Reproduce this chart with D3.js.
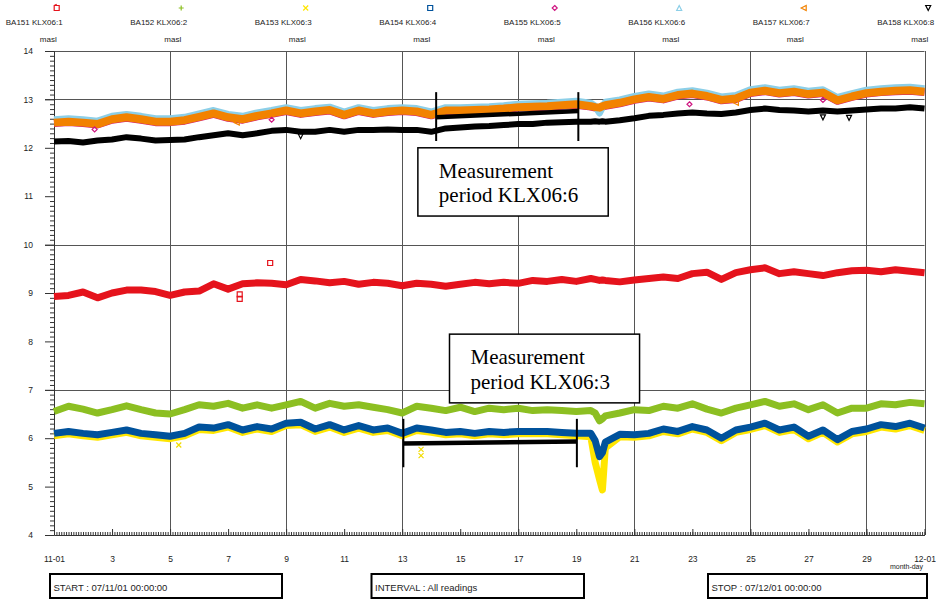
<!DOCTYPE html>
<html><head><meta charset="utf-8">
<script src="https://cdn.jsdelivr.net/npm/d3@7"></script>
<style>body{margin:0;background:#fff}svg{display:block}</style>
</head><body><svg id="c" width="936" height="599"></svg>
<script>
// ---------- DATA ----------
const days=[0,0.5,1,1.5,2,2.5,3,3.5,4,4.5,5,5.5,6,6.5,7,7.5,8,8.5,9,9.5,10,10.5,11,11.5,12,12.5,13,13.5,14,14.5,15,15.5,16,16.5,17,17.5,18,18.5,18.65,18.8,18.9,19,19.5,20,20.5,21,21.5,22,22.5,23,23.5,24,24.5,25,25.5,26,26.5,27,27.5,28,28.5,29,29.5,30];

const seriesNames=["BA151 KLX06:1","BA152 KLX06:2","BA153 KLX06:3","BA154 KLX06:4","BA155 KLX06:5","BA156 KLX06:6","BA157 KLX06:7","BA158 KLX06:8"];
const unitLabels=["masl","masl","masl","masl","masl","masl","masl","masl"];

const ba151=[8.93,8.95,9.02,8.90,9.00,9.06,9.06,9.03,8.95,9.02,
 9.04,9.19,9.08,9.19,9.21,9.20,9.17,9.28,9.25,9.21,
 9.24,9.18,9.22,9.20,9.15,9.20,9.18,9.14,9.18,9.22,
 9.19,9.22,9.20,9.26,9.24,9.28,9.24,9.30,
 9.28,9.26,9.27,
 9.26,9.23,9.27,9.30,9.33,9.30,9.40,9.43,9.28,9.42,9.48,9.52,9.40,9.44,9.40,9.36,9.42,9.46,9.47,9.44,9.48,9.45,9.42];
const ba152=[6.55,6.66,6.60,6.52,6.59,6.67,6.59,6.52,6.50,6.59,
 6.69,6.66,6.72,6.62,6.69,6.62,6.69,6.76,6.62,6.72,
 6.66,6.69,6.64,6.59,6.52,6.66,6.62,6.57,6.64,6.55,
 6.62,6.59,6.62,6.57,6.59,6.57,6.55,6.57,
 6.52,6.36,6.40,
 6.46,6.52,6.59,6.57,6.66,6.62,6.71,6.60,6.52,6.62,6.69,6.76,6.66,6.71,6.59,6.69,6.52,6.62,6.62,6.71,6.69,6.74,6.71];
const ba153=[6.05,6.09,6.05,6.02,6.07,6.12,6.05,6.02,5.99,6.05,
 6.18,6.16,6.23,6.12,6.19,6.14,6.26,6.28,6.14,6.23,
 6.12,6.21,6.12,6.16,6.05,6.16,6.12,6.07,6.09,6.05,
 6.09,6.07,6.09,6.09,6.09,6.07,6.05,6.03,
 5.50,5.15,4.93,
 5.80,6.03,6.02,6.05,6.14,6.09,6.19,6.12,5.95,6.12,6.18,6.26,6.12,6.18,5.99,6.12,5.92,6.09,6.14,6.23,6.19,6.26,6.16];
const ba154=[6.10,6.14,6.10,6.07,6.12,6.17,6.10,6.07,6.04,6.10,
 6.23,6.21,6.28,6.17,6.24,6.19,6.31,6.33,6.19,6.28,
 6.17,6.26,6.17,6.21,6.10,6.21,6.17,6.12,6.14,6.10,
 6.14,6.12,6.14,6.14,6.14,6.12,6.10,6.10,
 5.95,5.62,5.70,
 5.92,6.08,6.07,6.10,6.19,6.14,6.24,6.17,6.00,6.17,6.23,6.31,6.17,6.23,6.04,6.17,5.97,6.14,6.19,6.28,6.24,6.31,6.21];
const ba155=[12.50,12.52,12.50,12.47,12.57,12.61,12.57,12.52,12.52,12.55,
 12.62,12.69,12.61,12.57,12.64,12.69,12.75,12.69,12.73,12.76,
 12.66,12.75,12.69,12.73,12.75,12.73,12.66,12.75,12.75,12.76,
 12.77,12.79,12.82,12.83,12.84,12.86,12.88,12.84,
 12.82,12.81,12.84,
 12.86,12.91,12.98,13.03,12.99,13.07,13.10,13.05,12.97,13.00,13.12,13.16,13.11,13.14,13.09,13.12,12.96,13.04,13.11,13.14,13.16,13.17,13.14];
const ba156=[12.58,12.60,12.58,12.55,12.65,12.69,12.65,12.60,12.60,12.63,
 12.70,12.77,12.69,12.65,12.72,12.77,12.83,12.77,12.81,12.84,
 12.74,12.83,12.77,12.81,12.83,12.81,12.74,12.83,12.83,12.84,
 12.85,12.87,12.90,12.91,12.92,12.94,12.96,12.92,
 12.86,12.72,12.84,
 12.94,12.99,13.06,13.11,13.07,13.15,13.18,13.13,13.05,13.08,13.20,13.24,13.19,13.22,13.17,13.20,13.04,13.12,13.19,13.22,13.24,13.25,13.22];
const ba157=[12.52,12.54,12.52,12.49,12.59,12.63,12.59,12.54,12.54,12.57,
 12.64,12.71,12.63,12.59,12.66,12.71,12.77,12.71,12.75,12.78,
 12.68,12.77,12.71,12.75,12.77,12.75,12.68,12.77,12.77,12.78,
 12.79,12.81,12.84,12.85,12.86,12.88,12.90,12.86,
 12.84,12.83,12.86,
 12.88,12.93,13.00,13.05,13.01,13.09,13.12,13.07,12.99,13.02,13.14,13.18,13.13,13.16,13.11,13.14,12.98,13.06,13.13,13.16,13.18,13.19,13.16];
const ba158=[12.13,12.14,12.11,12.15,12.17,12.22,12.19,12.15,12.16,12.17,
 12.22,12.26,12.30,12.26,12.30,12.35,12.37,12.33,12.33,12.37,
 12.33,12.37,12.37,12.38,12.37,12.37,12.33,12.40,12.42,12.44,
 12.45,12.47,12.49,12.49,12.52,12.53,12.54,12.54,
 12.55,12.54,12.55,
 12.54,12.57,12.61,12.66,12.68,12.71,12.73,12.71,12.70,12.73,12.78,12.81,12.78,12.77,12.75,12.77,12.75,12.77,12.79,12.81,12.81,12.84,12.81];

// isolated readings (outliers)
const outRedDays=[6.4,6.4,7.45], outRedVals=[8.97,8.88,9.62];
const outYellowDays=[4.3,12.65,12.65], outYellowVals=[5.86,5.77,5.64];
const outMagentaDays=[1.4,7.5,21.9,26.5], outMagentaVals=[12.38,12.58,12.90,12.99];
const outOrangeDays=[6.3,23.5], outOrangeVals=[12.52,12.93];
const outBlackDays=[8.5,26.5,27.4], outBlackVals=[12.24,12.63,12.62];

// measurement periods (annotation)
const period6Days=[13.17,18.07], period6Vals=[12.63,12.76], period6Span=[12.14,13.15];
const period3Days=[12.04,18.02], period3Vals=[5.89,5.93], period3Span=[5.40,6.40];
const note6Lines=["Measurement","period KLX06:6"];
const note3Lines=["Measurement","period KLX06:3"];
const note6Box={d0:12.54,d1:19.1,v0:12.0,v1:10.59};
const note3Box={d0:13.63,d1:20.18,v0:8.15,v1:6.73};

const xTickDays=[0,2,4,6,8,10,12,14,16,18,20,22,24,26,28,30];
const xTickLabels=["11-01","3","5","7","9","11","13","15","17","19","21","23","25","27","29","12-01"];
const yTicks=[4,5,6,7,8,9,10,11,12,13,14];
const gridDays=[4,8,12,16,20,24,28];
const gridVals=[7,10,13,14];
const footerTexts=["START : 07/11/01 00:00:00","INTERVAL : All readings","STOP : 07/12/01 00:00:00"];

// ---------- STYLE ----------
const colors=["#e5131c","#8cbf22","#ffe600","#00529c","#cf1581","#8ccfe8","#f28200","#000000"];
const sans="'Liberation Sans', Arial, sans-serif";
const serif="'Liberation Serif', 'Times New Roman', serif";

const svg=d3.select('#c');
const x=d3.scaleLinear().domain([0,30]).range([54,924.5]);
const y=d3.scaleLinear().domain([4,14]).range([535,51]);

// grid
const g=svg.append('g');
g.selectAll('.gx').data(gridDays).join('line')
 .attr('x1',d=>Math.round(x(d))+0.5).attr('x2',d=>Math.round(x(d))+0.5)
 .attr('y1',y(14)).attr('y2',y(4)).attr('stroke','#555').attr('stroke-width',1);
g.selectAll('.gy').data(gridVals).join('line')
 .attr('x1',45).attr('x2',x(30))
 .attr('y1',d=>Math.round(y(d))+0.5).attr('y2',d=>Math.round(y(d))+0.5)
 .attr('stroke','#555').attr('stroke-width',1);
// right border
g.append('line').attr('x1',Math.round(x(30))+0.5).attr('x2',Math.round(x(30))+0.5)
 .attr('y1',y(14)).attr('y2',y(4)).attr('stroke','#555');

// y axis
const yAx=svg.append('g').attr('transform','translate(54,0)')
 .call(d3.axisLeft(y).tickValues(yTicks).tickSize(9).tickPadding(12).tickFormat(d3.format('d')));
yAx.select('.domain').attr('stroke','#333');
yAx.selectAll('line').attr('stroke','#333');
yAx.selectAll('text').attr('font-family',sans).attr('font-size',8.5).attr('fill','#222');
const minorY=d3.range(40,141).map(v=>v/10).filter(v=>Math.abs(v-Math.round(v))>0.01);
svg.append('g').attr('transform','translate(54,0)')
 .call(d3.axisLeft(y).tickValues(minorY).tickSize(4).tickFormat(''))
 .call(s=>s.select('.domain').remove()).selectAll('line').attr('stroke','#333');

// x axis
const minorX=d3.range(0,30*12+1).map(i=>i/12);
svg.append('g').attr('transform','translate(0,535)')
 .call(d3.axisBottom(x).tickValues(minorX).tickSizeInner(-3).tickSizeOuter(0).tickFormat(''))
 .call(s=>s.select('.domain').attr('stroke','#333'))
 .selectAll('line').attr('stroke','#333');
const xAx=svg.append('g').attr('transform','translate(0,535)')
 .call(d3.axisBottom(x).tickValues(xTickDays).tickSizeInner(-6).tickSizeOuter(0).tickPadding(21)
   .tickFormat((d,i)=>xTickLabels[i]));
xAx.select('.domain').remove();
xAx.selectAll('line').attr('stroke','#333');
xAx.selectAll('text').attr('font-family',sans).attr('font-size',8.5).attr('fill','#222');
svg.append('text').attr('x',x(29)+11).attr('y',569).attr('text-anchor','middle')
 .attr('font-family',sans).attr('font-size',7).attr('fill','#222').text('month-day');

// series
const allSeries=[ba151,ba152,ba153,ba154,ba155,ba156,ba157,ba158];
const line=d3.line().x((d,i)=>x(days[i])).y(d=>y(d));
const widths=[7,7,7,7,7,7,8,6];
allSeries.forEach((s,k)=>{
  svg.append('path').datum(s).attr('d',line).attr('fill','none')
   .attr('stroke',colors[k]).attr('stroke-width',widths[k])
   .attr('stroke-linejoin','round').attr('stroke-linecap','butt');
});

// marker shapes
function shape(kind,s){
  const h=s/2;
  switch(kind){
    case 0: return `M${-h},${-h}h${s}v${s}h${-s}Z M${-h},${-h}l${h},${-1.2}`;
    case 1: return `M${-h},0h${s}M0,${-h}v${s}`;
    case 2: return `M${-h},${-h}L${h},${h}M${h},${-h}L${-h},${h}`;
    case 3: return `M${-h},${-h}h${s}v${s}h${-s}Z`;
    case 4: return `M0,${-h}L${h},0L0,${h}L${-h},0Z`;
    case 5: return `M0,${-h}L${h},${h}L${-h},${h}Z`;
    case 6: return `M${-h},0L${h},${-h}L${h},${h}Z`;
    case 7: return `M${-h},${-h}L${h},${-h}L0,${h}Z`;
  }
}
function markers(dd,vv,kind,col){
  svg.append('g').selectAll('path').data(dd).join('path')
   .attr('transform',(d,i)=>`translate(${x(d)},${y(vv[i])})`)
   .attr('d',shape(kind,5)).attr('fill','none').attr('stroke',col).attr('stroke-width',1.2);
}
markers(outRedDays,outRedVals,3,colors[0]);
markers(outYellowDays,outYellowVals,2,"#f2dc00");
markers(outMagentaDays,outMagentaVals,4,colors[4]);
markers(outOrangeDays,outOrangeVals,6,colors[6]);
markers(outBlackDays,outBlackVals,7,colors[7]);

// legend
seriesNames.forEach((n,i)=>{
  const sx=56.7+124.5*i;
  const lg=svg.append('g');
  const p=lg.append('path').attr('transform',`translate(${sx},8)`).attr('d',shape(i,5))
    .attr('fill',i===2?colors[2]:'none').attr('stroke',colors[i]).attr('stroke-width',1.2);
  lg.append('text').attr('x',sx+6).attr('y',25).attr('text-anchor','end')
   .attr('font-family',sans).attr('font-size',8).attr('fill','#222').text(n);
  lg.append('text').attr('x',sx).attr('y',42).attr('text-anchor','end')
   .attr('font-family',sans).attr('font-size',8).attr('fill','#222').text(unitLabels[i]);
});

// measurement period bars
function period(dd,vv,span){
  const a=svg.append('g');
  a.append('line').attr('x1',x(dd[0])).attr('x2',x(dd[1])).attr('y1',y(vv[0])).attr('y2',y(vv[1]))
   .attr('stroke','#000').attr('stroke-width',4.5);
  dd.forEach(d=>a.append('line').attr('x1',x(d)).attr('x2',x(d)).attr('y1',y(span[0])).attr('y2',y(span[1]))
   .attr('stroke','#000').attr('stroke-width',2));
}
period(period6Days,period6Vals,period6Span);
period(period3Days,period3Vals,period3Span);

function note(b,lines){
  const x0=x(b.d0),x1=x(b.d1),y0=y(b.v0),y1=y(b.v1);
  svg.append('rect').attr('x',x0).attr('y',y0).attr('width',x1-x0).attr('height',y1-y0)
   .attr('fill','#fff').attr('stroke','#000').attr('stroke-width',1.5);
  lines.forEach((t,i)=>svg.append('text').attr('x',x0+21).attr('y',y0+30+i*24.5)
   .attr('font-family',serif).attr('font-size',21).attr('fill','#000').text(t));
}
note(note6Box,note6Lines);
note(note3Box,note3Lines);

// footer boxes
const footBoxes=[[50,282],[371.5,584],[708,927]];
footBoxes.forEach((b,i)=>{
  svg.append('rect').attr('x',b[0]).attr('y',574).attr('width',b[1]-b[0]).attr('height',24)
   .attr('fill','none').attr('stroke','#000').attr('stroke-width',2);
  svg.append('text').attr('x',b[0]+3.5).attr('y',591).attr('font-family',sans).attr('font-size',9.5)
   .attr('fill','#222').text(footerTexts[i]);
});
</script></body></html>
